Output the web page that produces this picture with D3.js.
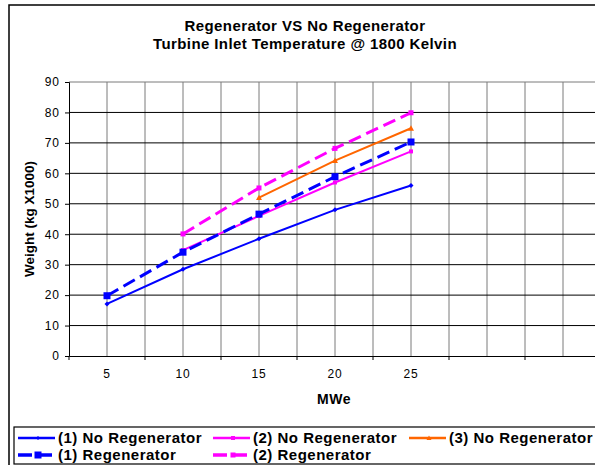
<!DOCTYPE html>
<html><head><meta charset="utf-8">
<script src="https://cdn.jsdelivr.net/npm/d3@7"></script>
<style>
body{margin:0;background:#fff;}
svg{display:block;font-family:"Liberation Sans",Arial,sans-serif;}
</style></head>
<body><svg id="c" width="595" height="465"></svg>
<script>
const categories = ["5","10","15","20","25","",""];
const noRegen1 = [17.1, 28.5, 38.5, 48, 56, null, null];
const noRegen2 = [null, 34.8, 46, 57, 67.2, null, null];
const noRegen3 = [null, null, 52, 64.2, 74.8, null, null];
const regen1   = [19.8, 34.1, 46.6, 58.9, 70.3, null, null];
const regen2   = [null, 40.1, 55.2, 68.2, 79.9, null, null];
const yTicks = [0,10,20,30,40,50,60,70,80,90];
const titleLines = ["Regenerator VS No Regenerator","Turbine Inlet Temperature @ 1800 Kelvin"];
const yTitle = "Weight (kg X1000)";
const xTitle = "MWe";

const series = [
  {name:"(1) No Regenerator", values:noRegen1, color:"#0000ff", dash:null, w:2, marker:"diamond", ms:4},
  {name:"(2) No Regenerator", values:noRegen2, color:"#ff00ff", dash:null, w:2, marker:"square", ms:4},
  {name:"(3) No Regenerator", values:noRegen3, color:"#ff6600", dash:null, w:2, marker:"triangle", ms:5},
  {name:"(1) Regenerator", values:regen1, color:"#0000ff", dash:"13,6", w:3, marker:"square", ms:7},
  {name:"(2) Regenerator", values:regen2, color:"#ff00ff", dash:"13,6", w:3, marker:"square", ms:5}
];

const svg = d3.select("#c");
const pL=69, pR=601, pT=82, pB=356;
const x = d3.scaleBand().domain(d3.range(categories.length)).range([pL,pR]).padding(0);
const y = d3.scaleLinear().domain([0,90]).range([pB,pT]);
const cx = i => x(i)+x.bandwidth()/2;

// outer border
svg.append("rect").attr("x",9).attr("y",5).attr("width",600).attr("height",470)
  .attr("fill","none").attr("stroke","#000").attr("stroke-width",1.5);

// titles
svg.append("g").selectAll("text").data(titleLines).join("text")
  .attr("x",305).attr("y",(d,i)=>31+i*18).attr("text-anchor","middle")
  .attr("font-size",15).attr("letter-spacing",0.4).attr("font-weight","bold").text(d=>d);

// vertical gridlines (band edges and centers)
const vpos = [];
categories.forEach((c,i)=>{vpos.push(x(i)); vpos.push(cx(i));});
vpos.push(pR);
svg.append("g").selectAll("line").data(vpos.slice(1)).join("line")
  .attr("x1",d=>d).attr("x2",d=>d).attr("y1",pT).attr("y2",pB)
  .attr("stroke","#7a7a7a").attr("stroke-width",1);

// horizontal gridlines
svg.append("g").selectAll("line").data(yTicks.slice(1)).join("line")
  .attr("x1",pL).attr("x2",pR).attr("y1",d=>y(d)).attr("y2",d=>y(d))
  .attr("stroke",(d,i)=> d===90 ? "#7a7a7a" : "#000").attr("stroke-width",1);

// y axis
const ya = svg.append("g").attr("transform",`translate(${pL},0)`)
  .call(d3.axisLeft(y).tickValues(yTicks).tickSize(4).tickPadding(5));
ya.select(".domain").attr("stroke","#000");
ya.selectAll("text").attr("font-size",12).attr("letter-spacing",1).attr("font-family","'Liberation Sans',Arial,sans-serif").attr("fill","#000");

// x axis
const xa = svg.append("g").attr("transform",`translate(0,${pB})`)
  .call(d3.axisBottom(x).tickFormat(i=>categories[i]).tickSize(0).tickPadding(13));
xa.select(".domain").attr("stroke","#000");
xa.selectAll("text").attr("font-size",12).attr("letter-spacing",0.8).attr("font-family","'Liberation Sans',Arial,sans-serif").attr("fill","#000");
svg.append("g").selectAll("line").data(d3.range(categories.length)).join("line")
  .attr("x1",i=>x(i)).attr("x2",i=>x(i)).attr("y1",pB).attr("y2",pB+4)
  .attr("stroke","#000");

// axis titles
svg.append("text").attr("transform","translate(34,219) rotate(-90)")
  .attr("text-anchor","middle").attr("font-size",13.5).attr("font-weight","bold").text(yTitle);
svg.append("text").attr("x",334).attr("y",404).attr("text-anchor","middle")
  .attr("font-size",14).attr("letter-spacing",0.5).attr("font-weight","bold").text(xTitle);

function markerPath(type,s){
  if(type==="diamond") return `M0,${-s}L${s},0L0,${s}L${-s},0Z`;
  if(type==="triangle") return `M0,${-s}L${s},${s*0.8}L${-s},${s*0.8}Z`;
  return `M${-s},${-s}H${s}V${s}H${-s}Z`;
}

const line = d3.line().defined(d=>d.v!=null).x(d=>cx(d.i)).y(d=>y(d.v));
const plot = svg.append("g");
series.forEach(s=>{
  const pts = s.values.map((v,i)=>({v,i}));
  plot.append("path").datum(pts).attr("d",line).attr("fill","none")
    .attr("stroke",s.color).attr("stroke-width",s.w)
    .attr("stroke-dasharray",s.dash);
  plot.append("g").selectAll("path").data(pts.filter(d=>d.v!=null)).join("path")
    .attr("transform",d=>`translate(${cx(d.i)},${y(d.v)})`)
    .attr("d",markerPath(s.marker,s.ms/2+ (s.marker==="square"?0:0.5))).attr("fill",s.color);
});

// legend
svg.append("rect").attr("x",14).attr("y",427).attr("width",600).attr("height",37)
  .attr("fill","#fff").attr("stroke","#000").attr("stroke-width",1.2);
const legPos = [[18,438],[213,438],[409,438],[18,455],[213,455]];
const lg = svg.append("g").selectAll("g").data(series).join("g")
  .attr("transform",(d,i)=>`translate(${legPos[i][0]},${legPos[i][1]})`);
lg.append("line").attr("x1",0).attr("x2",37).attr("y1",0).attr("y2",0)
  .attr("stroke",d=>d.color).attr("stroke-width",d=>d.w+0.5)
  .attr("stroke-dasharray",d=>d.dash?"14,6":null);
lg.append("path").attr("transform","translate(20,0)")
  .attr("d",d=>markerPath(d.marker,d.ms/2)).attr("fill",d=>d.color);
lg.append("text").attr("x",40).attr("y",5).attr("font-size",15).attr("letter-spacing",0.5).attr("font-weight","bold").text(d=>d.name);
</script></body></html>
